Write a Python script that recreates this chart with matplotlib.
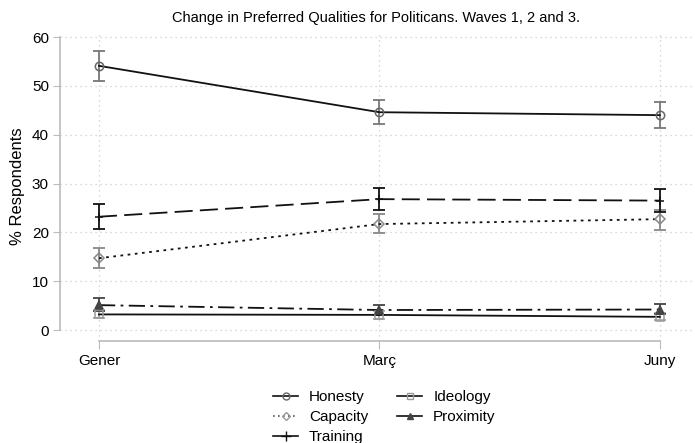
import numpy as np
import matplotlib
matplotlib.use("Agg")
import matplotlib.pyplot as plt
from matplotlib.lines import Line2D

plt.rcParams['font.family'] = ['Liberation Sans', 'DejaVu Sans']

waves = ["Gener", "Març", "Juny"]

honesty = [54.1, 44.6, 44.0]
honesty_lo = [51.0, 42.2, 41.4]
honesty_hi = [57.2, 47.0, 46.7]

capacity = [14.7, 21.7, 22.7]
capacity_lo = [12.6, 19.8, 20.5]
capacity_hi = [16.8, 23.8, 24.6]

training = [23.2, 26.8, 26.5]
training_lo = [20.6, 24.6, 24.2]
training_hi = [25.8, 29.0, 28.8]

ideology = [3.2, 3.1, 2.7]
ideology_lo = [2.4, 2.3, 2.0]
ideology_hi = [4.0, 3.9, 3.4]

proximity = [5.1, 4.1, 4.2]
proximity_lo = [3.8, 3.0, 3.2]
proximity_hi = [6.5, 5.2, 5.3]

x = np.arange(len(waves))

fig = plt.figure(figsize=(6.95, 4.43), dpi=100)
ax = fig.add_axes([0.0863, 0.2302, 0.9107, 0.6973])

def series(vals, lo, hi, ls, marker, mcol, mfill, ecol, dashes=None, ms=6):
    vals = np.array(vals)
    yerr = [vals - np.array(lo), np.array(hi) - vals]
    ax.errorbar(x, vals, yerr=yerr, fmt='none', ecolor=ecol, elinewidth=1.3,
                capsize=4, capthick=1.3, zorder=3)
    ln, = ax.plot(x, vals, color='#111111', linestyle=ls, linewidth=1.3, zorder=4)
    if dashes is not None:
        ln.set_dashes(dashes)
    ax.plot(x, vals, linestyle='none', marker=marker, markersize=ms,
            markeredgecolor=mcol, markerfacecolor=mfill, markeredgewidth=1.1, zorder=5)

series(honesty, honesty_lo, honesty_hi, '-', 'o', '#666666', 'none', '#777777')
series(capacity, capacity_lo, capacity_hi, ':', 'D', '#888888', 'none', '#888888', dashes=(1.5, 2.5), ms=5.5)
series(training, training_lo, training_hi, '--', '+', '#111111', 'none', '#111111', dashes=(10, 4))
series(ideology, ideology_lo, ideology_hi, '-', 's', '#999999', 'none', '#aaaaaa', ms=5.5)
series(proximity, proximity_lo, proximity_hi, '-.', '^', '#444444', '#444444', '#444444', dashes=(9, 3, 1.5, 3), ms=5.5)

ax.set_xlim(-0.139, 2.118)
ax.set_ylim(-2.25, 61)
ax.set_xticks(x)
ax.set_xticklabels(waves, fontsize=11)
ax.set_yticks(np.arange(0, 61, 10))
ax.tick_params(axis='y', labelsize=11, length=5, color='#bbbbbb', pad=3)
ax.tick_params(axis='x', length=6, color='#bbbbbb', pad=3)

ax.grid(True, linestyle=(0, (1, 3)), color='#cccccc', linewidth=0.9)
ax.set_axisbelow(True)
for s in ['top', 'right']:
    ax.spines[s].set_visible(False)
ax.spines['left'].set_bounds(0, 60)
ax.spines['bottom'].set_bounds(0, 2)
ax.spines['left'].set_color('#bbbbbb')
ax.spines['bottom'].set_color('#bbbbbb')
ax.spines['left'].set_linewidth(1.2)
ax.spines['bottom'].set_linewidth(1.2)

ax.set_ylabel('% Respondents', fontsize=12, labelpad=5)
ax.set_title('Change in Preferred Qualities for Politicans. Waves 1, 2 and 3.',
             fontsize=10.5, pad=7)

handles = [
    Line2D([], [], color='#111111', ls='-', lw=1.2, marker='o', ms=5, mec='#666666', mfc='none'),
    Line2D([], [], color='#555555', ls=(0, (1, 2)), lw=1.2, marker='D', ms=4.5, mec='#999999', mfc='none'),
    Line2D([], [], color='#111111', ls='-', lw=1.2, marker='+', ms=7, mec='#111111'),
    Line2D([], [], color='#111111', ls='-', lw=1.2, marker='s', ms=5, mec='#999999', mfc='none'),
    Line2D([], [], color='#111111', ls='-', lw=1.2, marker='^', ms=5, mec='#444444', mfc='#444444'),
]
labels = ['Honesty', 'Capacity', 'Training', 'Ideology', 'Proximity']
fig.legend(handles, labels, loc='upper center', bbox_to_anchor=(0.553, 0.136),
           ncol=2, frameon=False, fontsize=11, handlelength=1.65, handletextpad=0.7,
           columnspacing=1.9, labelspacing=0.38, borderpad=0)

fig.savefig('out.png', dpi=100)
